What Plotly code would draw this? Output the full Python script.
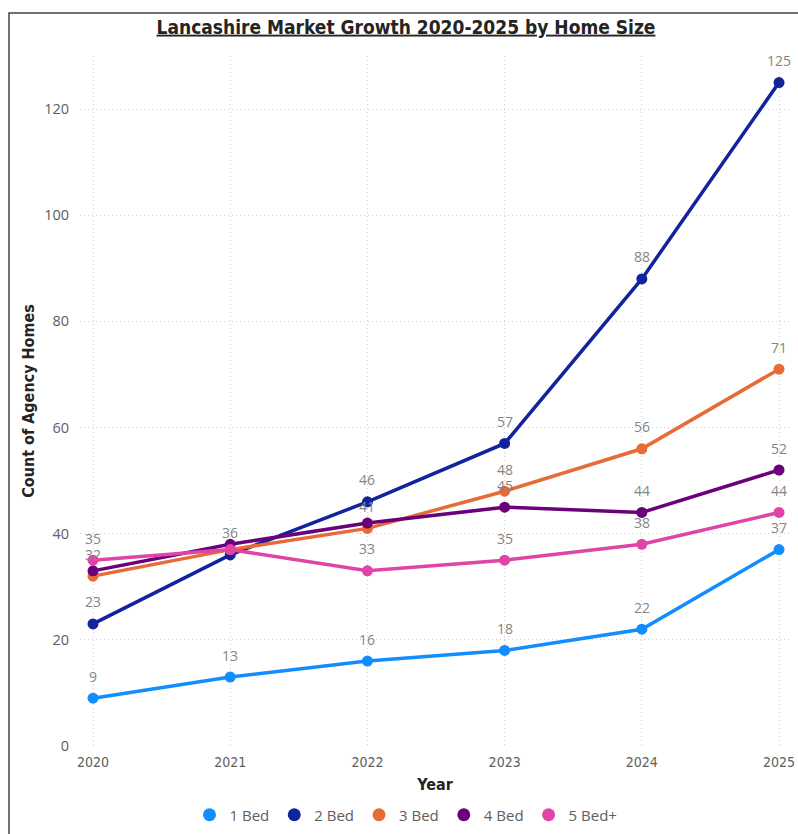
import plotly.graph_objects as go

years = [2020, 2021, 2022, 2023, 2024, 2025]
series_names = ["1 Bed", "2 Bed", "3 Bed", "4 Bed", "5 Bed+"]
bed1 = [9, 13, 16, 18, 22, 37]
bed2 = [23, 36, 46, 57, 88, 125]
bed3 = [32, 37, 41, 48, 56, 71]
bed4 = [33, 38, 42, 45, 44, 52]
bed5 = [35, 37, 33, 35, 38, 44]
# which data labels are visible (Power BI hides overlapping ones)
show1 = [1, 1, 1, 1, 1, 1]
show2 = [1, 1, 1, 1, 1, 1]
show3 = [1, 0, 1, 1, 1, 1]
show4 = [0, 0, 0, 1, 1, 1]
show5 = [1, 0, 1, 1, 1, 1]
colors = ["#118DFF", "#12239E", "#E66C37", "#6B007B", "#E044A7"]

values = [bed1, bed2, bed3, bed4, bed5]
shows = [show1, show2, show3, show4, show5]

W, H = 798, 834
ml, mr, mt, mb = 80, 8, 56, 834 - 746
pw, ph = W - ml - mr, H - mt - mb

fig = go.Figure()
annotations = []
for name, vals, col, sh in zip(series_names, values, colors, shows):
    fig.add_trace(go.Scatter(
        x=years, y=vals, mode="lines+markers", name=name,
        line=dict(color=col, width=3.5),
        marker=dict(color=col, size=11),
        showlegend=False, hoverinfo="x+y+name", cliponaxis=False))
    for x, v, s in zip(years, vals, sh):
        if s:
            annotations.append(dict(
                x=x, y=v, xref="x", yref="y", text=str(v), showarrow=False,
                yshift=22, font=dict(family="Open Sans", size=14, color="#858585")))

for name, col in zip(series_names, colors):
    fig.add_trace(go.Scatter(
        x=[None], y=[None], mode="markers", name=name,
        marker=dict(color=col, size=13), showlegend=True))

def px_x(p):
    return (p - ml) / pw

def px_y(p):
    return (H - mb - p) / ph

fig.add_shape(type="rect", xref="paper", yref="paper",
              x0=px_x(9), x1=px_x(830), y0=px_y(870), y1=px_y(13),
              line=dict(color="#444444", width=1.5), fillcolor="rgba(0,0,0,0)")

grid = "#D0D0D0"
fig.update_layout(
    width=W, height=H,
    margin=dict(l=ml, r=mr, t=mt, b=mb, autoexpand=False),
    paper_bgcolor="white", plot_bgcolor="white",
    title=dict(text="<u>Lancashire Market Growth 2020-2025 by Home Size</u>",
               x=px_x(406), xanchor="center", xref="paper",
               y=1 - 27 / H, yanchor="middle",
               font=dict(family="DejaVu Sans Condensed", size=19, color="#252423", weight="bold")),
    xaxis=dict(range=[2019.905, 2025.08], tickvals=years,
               ticktext=[str(y) for y in years], automargin=False,
               showgrid=True, gridcolor=grid, griddash="1px,3px", gridwidth=1,
               zeroline=False, showline=False, ticks="", ticklabelstandoff=6,
               tickfont=dict(family="DejaVu Sans Condensed", size=14, color="#605E5C"),
               title=dict(text="Year", standoff=9,
                          font=dict(family="DejaVu Sans Condensed", size=16, color="#252423", weight="bold"))),
    yaxis=dict(range=[0, 130], tickvals=[0, 20, 40, 60, 80, 100, 120], automargin=False,
               showgrid=True, gridcolor=grid, griddash="1px,3px", gridwidth=1,
               zeroline=False, showline=False, ticks="", ticklabelstandoff=10,
               tickfont=dict(family="Open Sans", size=14.5, color="#605E5C"),
               title=dict(text="Count of Agency Homes", standoff=5,
                          font=dict(family="DejaVu Sans Condensed", size=16, color="#252423", weight="bold"))),
    legend=dict(orientation="h", x=px_x(406), xanchor="center", y=px_y(815), yanchor="middle",
                font=dict(family="Open Sans", size=15, color="#605E5C"),
                itemwidth=30, tracegroupgap=0, bgcolor="rgba(0,0,0,0)"),
    annotations=annotations,
    showlegend=True,
)

fig.write_html("out.html", config={"displayModeBar": False},
               post_script="document.body.style.margin='0px';document.body.style.overflow='hidden';")
